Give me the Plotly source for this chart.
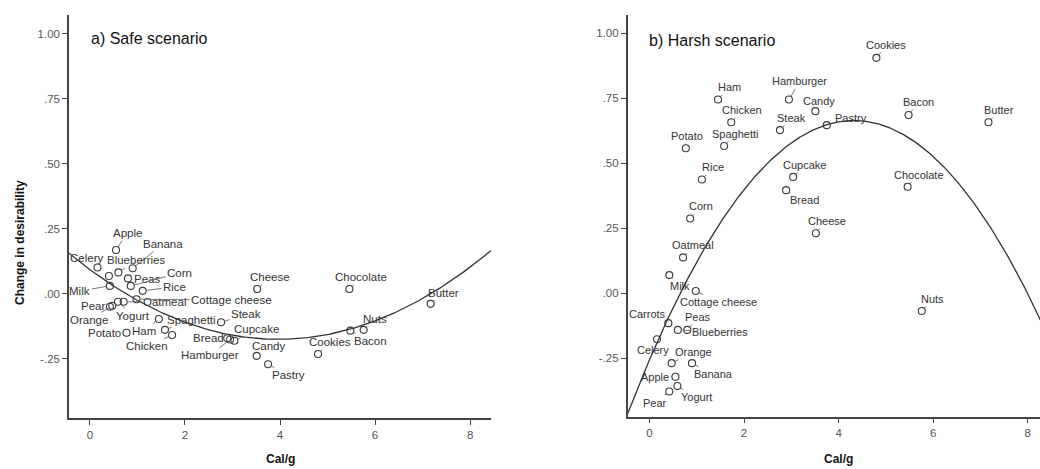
import numpy as np
import plotly.graph_objects as go

# ---- data ----
foods = ["Apple", "Banana", "Celery", "Carrots", "Blueberries", "Peas", "Corn", "Rice",
         "Milk", "Pear", "Orange", "Yogurt", "Oatmeal", "Cottage cheese", "Potato", "Ham",
         "Spaghetti", "Chicken", "Steak", "Bread", "Cupcake", "Hamburger", "Candy", "Pastry",
         "Cheese", "Chocolate", "Cookies", "Bacon", "Nuts", "Butter"]
cal_per_g = [0.55, 0.90, 0.16, 0.40, 0.60, 0.80, 0.86, 1.11,
             0.42, 0.42, 0.47, 0.59, 0.71, 0.98, 0.77, 1.45,
             1.58, 1.73, 2.76, 2.89, 3.04, 2.95, 3.51, 3.75,
             3.52, 5.46, 4.80, 5.48, 5.76, 7.17]
safe_change = [0.169, 0.099, 0.102, 0.069, 0.083, 0.060, 0.031, 0.012,
               0.031, -0.049, -0.045, -0.030, -0.030, -0.020, -0.149, -0.096,
               -0.138, -0.158, -0.109, -0.170, -0.180, -0.175, -0.238, -0.270,
               0.019, 0.019, -0.231, -0.141, -0.138, -0.038]
harsh_change = [-0.321, -0.269, -0.177, -0.115, -0.141, -0.141, 0.288, 0.438,
                0.070, -0.378, -0.269, -0.357, 0.138, 0.009, 0.558, 0.746,
                0.567, 0.658, 0.628, 0.397, 0.448, 0.746, 0.701, 0.647,
                0.231, 0.410, 0.906, 0.686, -0.068, 0.658]

y_tickvals = [-0.25, 0.0, 0.25, 0.50, 0.75, 1.00]
y_ticktext = ["-.25", ".00", ".25", ".50", ".75", "1.00"]
x_tickvals = [0, 2, 4, 6, 8]

# ---- label placement (pixel offsets of each label from its point) ----
safe_label_offsets = {
    "Apple": (11, -17), "Banana": (30, -24), "Celery": (-11, -9), "Blueberries": (18, -12),
    "Peas": (19, 1), "Corn": (49, -13), "Rice": (32, -4), "Milk": (-30, 5),
    "Pear": (-17, -1), "Orange": (-23, 14), "Yogurt": (15, 14), "Oatmeal": (41, 0),
    "Cottage cheese": (95, 1), "Potato": (-22, 0), "Ham": (-15, 12), "Spaghetti": (26, -10),
    "Chicken": (-25, 11), "Steak": (25, -8), "Bread": (-19, 0), "Cupcake": (22, -12),
    "Hamburger": (-20, 16), "Candy": (12, -10), "Pastry": (20, 11), "Cheese": (13, -12),
    "Chocolate": (12, -12), "Cookies": (12, -12), "Bacon": (20, 10), "Nuts": (11, -11),
    "Butter": (13, -11),
}
harsh_label_offsets = {
    "Ham": (11, -12), "Chicken": (11, -12), "Spaghetti": (11, -12), "Potato": (1, -12),
    "Rice": (11, -12), "Hamburger": (11, -18), "Candy": (4, -10), "Steak": (12, -12),
    "Pastry": (24, -7), "Cupcake": (11, -12), "Bread": (18, 10), "Corn": (11, -12),
    "Oatmeal": (10, -12), "Cheese": (11, -12), "Cookies": (10, -13), "Bacon": (10, -13),
    "Butter": (11, -12), "Chocolate": (11, -12), "Nuts": (11, -12), "Milk": (11, 11),
    "Cottage cheese": (23, 11), "Carrots": (-21, -9), "Peas": (11, -13), "Blueberries": (42, 2),
    "Celery": (-4, 11), "Orange": (22, -11), "Banana": (21, 11), "Apple": (-20, 0),
    "Pear": (-14, 11), "Yogurt": (19, 11),
}

W, H = 1040, 469
AX = "#444444"

fig = go.Figure()

x = np.array(cal_per_g)
panels = [
    ("x", "y", np.array(safe_change), safe_label_offsets, [-0.44, 8.44], 11.5),
    ("x2", "y2", np.array(harsh_change), harsh_label_offsets, [-0.46, 8.26], 11),
]

for xr, yr, yv, offs, xrange_, fsize in panels:
    coef = np.polyfit(x, yv, 2)
    xs = np.linspace(xrange_[0], 8.5, 300)
    fig.add_trace(go.Scatter(x=xs, y=np.polyval(coef, xs), mode="lines", xaxis=xr, yaxis=yr,
                             line=dict(color="#333333", width=1.3), hoverinfo="skip",
                             showlegend=False))
    fig.add_trace(go.Scatter(x=x, y=yv, mode="markers", xaxis=xr, yaxis=yr, text=foods,
                             marker=dict(symbol="circle-open", size=7, color="#3a3a3a",
                                         line=dict(width=1.1)),
                             showlegend=False, cliponaxis=False))
    for name, xi, yi in zip(foods, x, yv):
        if name not in offs:
            continue
        dx, dy = offs[name]
        fig.add_annotation(x=xi, y=yi, xref=xr, yref=yr, text=name, showarrow=True,
                           ax=dx, ay=dy, arrowhead=0, arrowwidth=0.8, arrowcolor="#555555",
                           standoff=3.5,
                           font=dict(family="Liberation Sans, Arial", size=fsize, color="#333333"))

axis_common = dict(showline=True, linecolor=AX, linewidth=1.5, ticks="outside", ticklen=5,
                   tickcolor=AX, tickwidth=1.2, showgrid=False, zeroline=False,
                   tickfont=dict(family="Liberation Sans, Arial", size=11.5, color="#555555"))

fig.update_layout(
    width=W, height=H, margin=dict(l=0, r=0, t=0, b=0),
    paper_bgcolor="white", plot_bgcolor="white",
    xaxis=dict(domain=[69 / W, 491 / W], range=[-0.44, 8.44], tickvals=x_tickvals, anchor="y",
               **axis_common),
    yaxis=dict(domain=[(H - 418) / H, (H - 15) / H], range=[-0.477, 1.073], tickvals=y_tickvals,
               ticktext=y_ticktext, anchor="x", **axis_common),
    xaxis2=dict(domain=[627.7 / W, 1.0], range=[-0.46, 8.26], tickvals=x_tickvals, anchor="y2",
                **axis_common),
    yaxis2=dict(domain=[(H - 416.7) / H, (H - 15) / H], range=[-0.475, 1.071], tickvals=y_tickvals,
                ticktext=y_ticktext, anchor="x2", **axis_common),
    showlegend=False,
)

title_font = dict(family="Liberation Sans, Arial", size=12, color="#111111")
fig.add_annotation(text="<b>Cal/g</b>", xref="paper", yref="paper", x=280 / W, y=(H - 459) / H,
                   showarrow=False, font=title_font, xanchor="center", yanchor="middle")
fig.add_annotation(text="<b>Cal/g</b>", xref="paper", yref="paper", x=838 / W, y=(H - 459) / H,
                   showarrow=False, font=title_font, xanchor="center", yanchor="middle")
fig.add_annotation(text="<b>Change in desirability</b>", xref="paper", yref="paper", x=20 / W,
                   y=(H - 243) / H, showarrow=False, textangle=-90, font=title_font,
                   xanchor="center", yanchor="middle")
panel_font = dict(family="Liberation Sans, Arial", size=16, color="#111111")
fig.add_annotation(text="a) Safe scenario", xref="paper", yref="paper", x=89 / W, y=(H - 38) / H,
                   showarrow=False, font=panel_font, xanchor="left", yanchor="middle")
fig.add_annotation(text="b) Harsh scenario", xref="paper", yref="paper", x=647 / W,
                   y=(H - 40) / H, showarrow=False, font=panel_font, xanchor="left",
                   yanchor="middle")

fig.write_html("out.html", config={"displayModeBar": False},
               post_script="document.body.style.margin='0';document.body.style.overflow='hidden';")
